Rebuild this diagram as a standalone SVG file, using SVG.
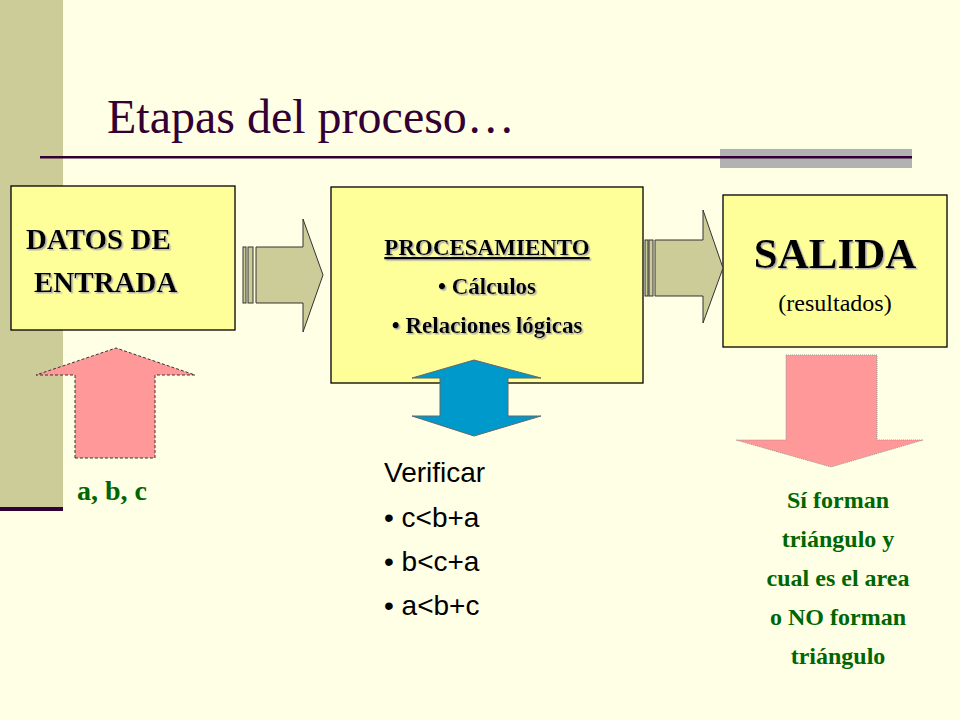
<svg xmlns="http://www.w3.org/2000/svg" width="960" height="720" viewBox="0 0 960 720">
<defs>
<filter id="shadow" x="-10%" y="-10%" width="120%" height="130%">
<feDropShadow dx="1.5" dy="1.5" stdDeviation="0" flood-color="#b0b0b0"/>
</filter>
</defs>
<style>
.box{fill:#ffff99;stroke:#000;stroke-width:1.3}
.garrow{fill:#cccc99;stroke:#333;stroke-width:1}
</style>
<rect width="960" height="720" fill="#ffffe5"/>
<rect x="0" y="0" width="63" height="508" fill="#cccc99"/>
<rect x="0" y="507" width="63" height="4" fill="#330033"/>
<text x="107" y="133" font-family="Liberation Serif,serif" font-size="48" fill="#330033">Etapas del proceso…</text>
<rect x="720" y="149" width="192" height="19" fill="#b2b2b2"/>
<rect x="40" y="156" width="872" height="2.5" fill="#330033"/>

<g id="entrada">
<rect x="11" y="186" width="224" height="144" class="box"/>
<g font-family="Liberation Serif,serif" font-weight="bold" font-size="29" filter="url(#shadow)">
<text x="26" y="249">DATOS DE</text>
<text x="34" y="292">ENTRADA</text>
</g>
</g>

<g id="procesamiento">
<rect x="331" y="187" width="312" height="196" class="box"/>
<g font-family="Liberation Serif,serif" font-weight="bold" font-size="23" text-anchor="middle" filter="url(#shadow)">
<text x="487" y="255" text-decoration="underline">PROCESAMIENTO</text>
<text x="487" y="294">• Cálculos</text>
<text x="487" y="333">• Relaciones lógicas</text>
</g>
</g>

<g id="salida">
<rect x="723" y="195" width="224" height="152" class="box"/>
<text x="835" y="268" font-family="Liberation Serif,serif" font-weight="bold" font-size="43" text-anchor="middle" filter="url(#shadow)">SALIDA</text>
<text x="835" y="311" font-family="Liberation Serif,serif" font-size="24" text-anchor="middle">(resultados)</text>
</g>

<g id="connectors">
<g id="arrow1">
<rect x="243" y="247" width="3" height="56" class="garrow"/>
<rect x="248" y="247" width="5" height="56" class="garrow"/>
<polygon points="256,247 303,247 303,219 323,275 303,332 303,303 256,303" class="garrow"/>
</g>
<g id="arrow2">
<rect x="645" y="240" width="3" height="56" class="garrow"/>
<rect x="649" y="240" width="4" height="56" class="garrow"/>
<polygon points="655,240 703,240 703,210 723,268 703,323 703,296 655,296" class="garrow"/>
</g>
<polygon id="upArrow" points="75,458 75,375 36,375 116,348 195,375 155,375 155,458" fill="#ff9999" stroke="#333" stroke-width="1" stroke-dasharray="3,2"/>
<polygon id="downArrow" points="786,355 877,355 877,440 923,440 831,467 736,440 786,440" fill="#ff9999" stroke="#999" stroke-width="1" stroke-dasharray="1,1"/>
<polygon id="doubleArrow" points="474,360 541,378 508,378 508,416 541,416 474,436 412,416 440,416 440,378 412,378" fill="#0099cc" stroke="#666" stroke-width="1"/>
</g>

<g id="abc">
<text x="77" y="500" font-family="Liberation Serif,serif" font-weight="bold" font-size="28" fill="#006600">a, b, c</text>
</g>

<g id="verificar" font-family="Liberation Sans,Arial,sans-serif" font-size="28" fill="#000">
<text x="384" y="482">Verificar</text>
<text x="384" y="527">• c&lt;b+a</text>
<text x="384" y="571">• b&lt;c+a</text>
<text x="384" y="615">• a&lt;b+c</text>
</g>

<g id="resultado" font-family="Liberation Serif,serif" font-weight="bold" font-size="24" fill="#006600" text-anchor="middle">
<text x="838" y="508">Sí forman</text>
<text x="838" y="547">triángulo y</text>
<text x="838" y="586">cual es el area</text>
<text x="838" y="625">o NO forman</text>
<text x="838" y="664">triángulo</text>
</g>
</svg>
